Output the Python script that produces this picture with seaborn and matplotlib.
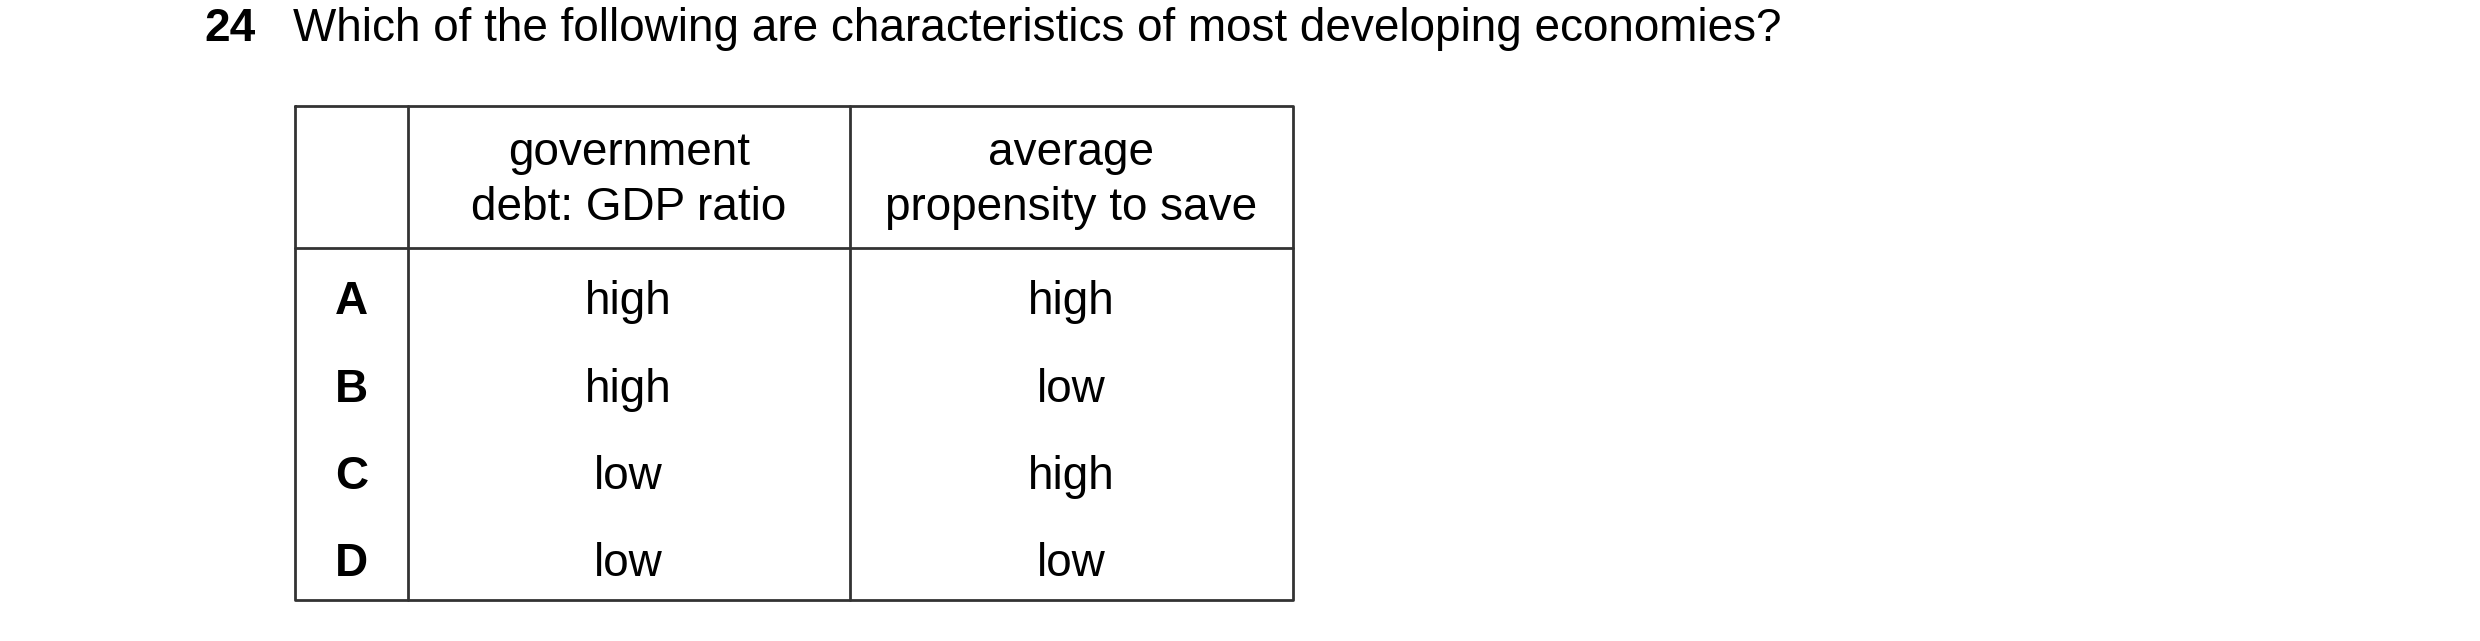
import matplotlib
matplotlib.use("Agg")
import matplotlib.pyplot as plt
import seaborn as sns

QUESTION_NUMBER = "24"
QUESTION_TEXT = "Which of the following are characteristics of most developing economies?"
COLUMN_HEADERS = ["government\ndebt: GDP ratio", "average\npropensity to save"]
ROW_LABELS = ["A", "B", "C", "D"]
DEBT_RATIO = ["high", "high", "low", "low"]
PROPENSITY_TO_SAVE = ["high", "low", "high", "low"]

sns.set_theme(style="white")
plt.rcParams["font.family"] = ["Liberation Sans", "DejaVu Sans"]

W, H = 2480, 641
fig = plt.figure(figsize=(W / 100, H / 100), dpi=100)
ax = fig.add_axes([0, 0, 1, 1])
ax.set_xlim(0, W)
ax.set_ylim(H, 0)
ax.axis("off")

k = 0.987  # layout scale
fs = 33
ink = "black"
ax.text(207 * k, 29 * k, QUESTION_NUMBER, fontsize=fs, fontweight="bold", va="center", ha="left", color=ink)
ax.text(297 * k, 29 * k, QUESTION_TEXT, fontsize=fs, va="center", ha="left", color=ink)

# table frame
left, right, top, bottom = 299 * k, 1310 * k, 107 * k, 608 * k
col_x = [413 * k, 861 * k]
header_y = 251 * k
lw = 2
line_c = "#333333"
ax.plot([left, right, right, left, left], [top, top, bottom, bottom, top], color=line_c, lw=lw)
for x in col_x:
    ax.plot([x, x], [top, bottom], color=line_c, lw=lw)
ax.plot([left, right], [header_y, header_y], color=line_c, lw=lw)

centers = [(left + col_x[0]) / 2, (col_x[0] + col_x[1]) / 2, (col_x[1] + right) / 2]
for c, head in zip(centers[1:], COLUMN_HEADERS):
    ax.text(c, (top + header_y) / 2 + 4, head, fontsize=fs, ha="center", va="center",
            linespacing=1.32, color=ink)

row_y = [306 * k, 395 * k, 483 * k, 571 * k]
for y, lab, d, s in zip(row_y, ROW_LABELS, DEBT_RATIO, PROPENSITY_TO_SAVE):
    ax.text(centers[0], y, lab, fontsize=fs, fontweight="bold", ha="center", va="center", color=ink)
    ax.text(centers[1], y, d, fontsize=fs, ha="center", va="center", color=ink)
    ax.text(centers[2], y, s, fontsize=fs, ha="center", va="center", color=ink)

fig.savefig("out.png", dpi=100)
